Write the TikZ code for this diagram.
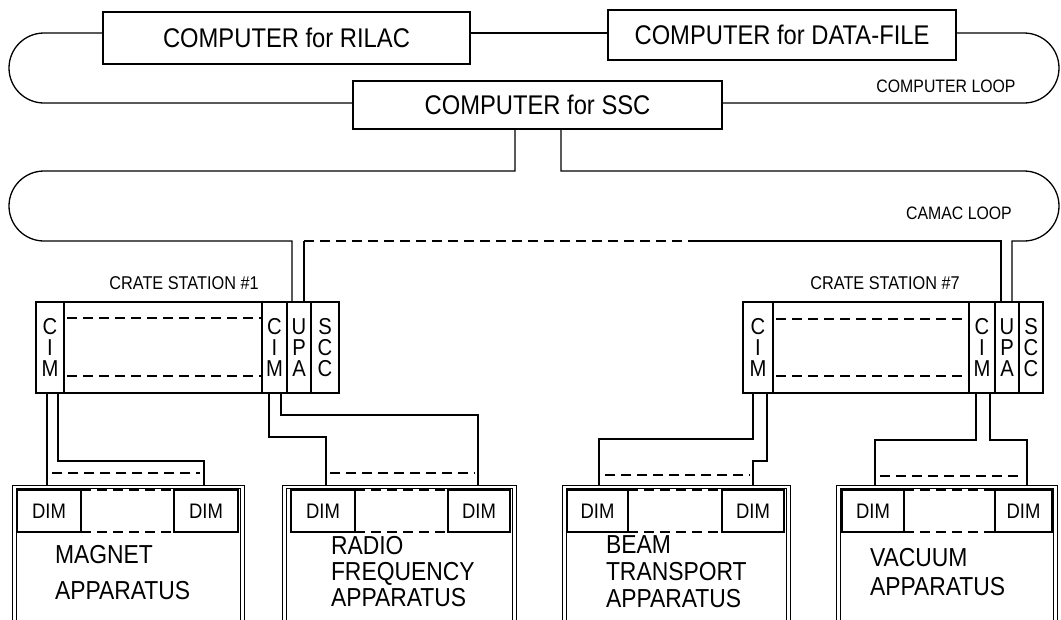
\documentclass[tikz,border=0pt]{standalone}
\usepackage{fontspec}
\setmainfont{Liberation Sans}[FakeStretch=0.88]
\newcommand{\myfs}[2]{\fontsize{#1}{#2}\selectfont}
\begin{document}
\begin{tikzpicture}[x=1pt,y=-1pt,line width=1.3pt,
  every node/.style={inner sep=0pt,outer sep=0pt},
  compbox/.style={draw,font=\myfs{27}{27}},
  looplabel/.style={font=\myfs{18}{18}},
  cratelabel/.style={font=\myfs{18.5}{18.5}},
  crateframe/.style={draw,minimum height=91pt},
  module/.style={draw,minimum height=91pt,align=center,font=\myfs{23}{21}},
  dimbox/.style={draw,minimum height=42pt,font=\myfs{21}{21}},
  appbox/.style={draw,double,double distance=2.2pt,outer sep=2.4pt,minimum height=163pt},
  applabel/.style={anchor=west,align=left},
  dashline/.style={dash pattern=on 10pt off 6pt}]
\useasboundingbox (0,0) rectangle (1061,619);
\clip (0,0) rectangle (1061,619);

% computers
\node[compbox,minimum width=367pt,minimum height=52pt] (rilac) at (286.5,38) {COMPUTER for RILAC};
\node[compbox,minimum width=348pt,minimum height=50pt] (datafile) at (782,35) {COMPUTER for DATA-FILE};
\node[compbox,minimum width=369pt,minimum height=48pt] (ssc) at (537.5,105) {COMPUTER for SSC};

% computer loop
\draw (rilac.west |- 0,33) -- (44,33) arc[start angle=270,end angle=90,radius=35] -- (ssc.west |- 0,103);
\draw (rilac.east |- 0,33) -- (datafile.west |- 0,33);
\draw (datafile.east |- 0,33) -- (1024,33) arc[start angle=270,end angle=450,radius=35] -- (ssc.east |- 0,103);
\node[looplabel] (cloop) at (946,86) {COMPUTER LOOP};

% crate station 1
\node[crateframe,minimum width=303pt] (crate1) at (187.5,347.5) {};
\node[module,minimum width=28pt] (cim1a) at (50,347.5) {C\\I\\M};
\node[module,minimum width=25pt] (cim1b) at (274.5,347.5) {C\\I\\M};
\node[module,minimum width=24pt] (upa1) at (299,347.5) {U\\P\\A};
\node[module,minimum width=28pt] (scc1) at (325,347.5) {S\\C\\C};
\draw[dashline] (67,318) -- (cim1b.west |- 0,318);
\draw[dashline] (67,376) -- (cim1b.west |- 0,376);
\node[cratelabel] (lab1) at (184,283) {CRATE STATION \#1};

% crate station 7
\node[crateframe,minimum width=300pt] (crate7) at (893,347.5) {};
\node[module,minimum width=30pt] (cim7a) at (758,347.5) {C\\I\\M};
\node[module,minimum width=26pt] (cim7b) at (982,347.5) {C\\I\\M};
\node[module,minimum width=24pt] (upa7) at (1007,347.5) {U\\P\\A};
\node[module,minimum width=24pt] (scc7) at (1031,347.5) {S\\C\\C};
\draw[dashline] (776,319) -- (cim7b.west |- 0,319);
\draw[dashline] (776,376) -- (cim7b.west |- 0,376);
\node[cratelabel] (lab7) at (885,283) {CRATE STATION \#7};

% camac loop
\draw (ssc.south -| 515,0) -- (515,171) -- (44,171) arc[start angle=270,end angle=90,radius=35] -| (upa1.north -| 292,0);
\draw (ssc.south -| 561,0) -- (561,171) -- (1024,171) arc[start angle=270,end angle=450,radius=35] -| (upa7.north -| 1012,0);
\draw (upa1.north -| 304,0) -- (304,241);
\draw[dashline] (304,241) -- (696,241);
\draw (696,241) -| (upa7.north -| 1001,0);
\node[looplabel] (camac) at (959,213) {CAMAC LOOP};

% apparatus
\node[appbox,minimum width=228pt] (magnet) at (128.5,568.5) {};
\node[appbox,minimum width=230pt] (radio) at (399.5,568.5) {};
\node[appbox,minimum width=224pt] (beam) at (676.5,568.5) {};
\node[appbox,minimum width=217pt] (vacuum) at (947,568.5) {};

\node[dimbox,minimum width=64pt] (dA1) at (49,511) {DIM};
\node[dimbox,minimum width=64pt] (dA2) at (206,511) {DIM};
\node[dimbox,minimum width=64pt] (dB1) at (323,511) {DIM};
\node[dimbox,minimum width=62pt] (dB2) at (479,511) {DIM};
\node[dimbox,minimum width=61pt] (dC1) at (597.5,511) {DIM};
\node[dimbox,minimum width=62pt] (dC2) at (753,511) {DIM};
\node[dimbox,minimum width=62pt] (dD1) at (873,511) {DIM};
\node[dimbox,minimum width=57pt] (dD2) at (1023.5,511) {DIM};
\foreach \a/\b in {dA1/dA2,dB1/dB2,dC1/dC2,dD1/dD2}{
  \draw[dashline] (\a.north east) -- (\b.north west);
  \draw[dashline] (\a.south east) -- (\b.south west);
}

\node[applabel,font=\myfs{26}{36}] (labA) at (55,573) {MAGNET\\APPARATUS};
\node[applabel,font=\myfs{26}{26}] (labB) at (331,572) {RADIO\\FREQUENCY\\APPARATUS};
\node[applabel,font=\myfs{26}{27}] (labC) at (606,572) {BEAM\\TRANSPORT\\APPARATUS};
\node[applabel,font=\myfs{26}{29}] (labD) at (870,572.5) {VACUUM\\APPARATUS};

% cables crate 1
\draw (cim1a.south -| 47,0) -- (magnet.north -| 47,0);
\draw (cim1a.south -| 58,0) |- (204,461) -- (magnet.north -| 204,0);
\draw[dashline] (52,473) -- (200,473);
\draw (cim1b.south -| 269,0) |- (326,437) -- (radio.north -| 326,0);
\draw (cim1b.south -| 281,0) |- (478,415) -- (radio.north -| 478,0);
\draw[dashline] (330,473) -- (475,473);

% cables crate 7
\draw (cim7a.south -| 753,0) |- (599,439) -- (beam.north -| 599,0);
\draw (cim7a.south -| 767,0) |- (753,461) -- (beam.north -| 753,0);
\draw[dashline] (605,475) -- (750,475);
\draw (cim7b.south -| 976,0) |- (875,440) -- (vacuum.north -| 875,0);
\draw (cim7b.south -| 990,0) |- (1027,440) -- (vacuum.north -| 1027,0);
\draw[dashline] (880,476) -- (1023,476);
\end{tikzpicture}
\end{document}
